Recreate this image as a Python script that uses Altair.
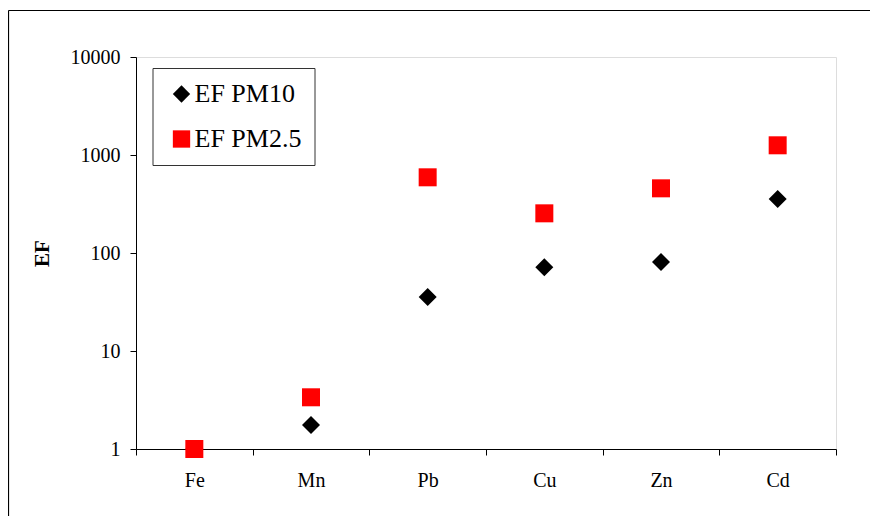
import altair as alt
import pandas as pd

elements = ["Fe", "Mn", "Pb", "Cu", "Zn", "Cd"]
ef_pm10 = [1, 1.76, 35.6, 71.5, 81, 355]
ef_pm25 = [1, 3.37, 592, 254, 457, 1256]
series_names = ["EF PM10", "EF PM2.5"]
y_ticks = [1, 10, 100, 1000, 10000]

rows = []
for name, vals in zip(series_names, [ef_pm10, ef_pm25]):
    for e, v in zip(elements, vals):
        rows.append({"element": e, "series": name, "value": v})
df = pd.DataFrame(rows)

FONT = "Liberation Serif"

points = alt.Chart(df).mark_point(filled=True, size=324, opacity=1, strokeWidth=0).encode(
    x=alt.X("element:N", sort=elements, title=None,
            scale=alt.Scale(paddingInner=0, paddingOuter=0),
            axis=alt.Axis(labelAngle=0, tickBand="extent", tickSize=6,
                          labelPadding=15, labelFontSize=20, labelFont=FONT,
                          labelColor="black", domainColor="black", tickColor="black",
                          grid=False)),
    y=alt.Y("value:Q", title="EF",
            scale=alt.Scale(type="log", domain=[1, 10000]),
            axis=alt.Axis(values=y_ticks, format="d", tickSize=6, labelPadding=10,
                          labelFontSize=20, labelFont=FONT, labelColor="black",
                          domainColor="black", tickColor="black", grid=False,
                          titleFont=FONT, titleFontSize=21, titleFontWeight="bold",
                          titleColor="black", titlePadding=18)),
    color=alt.Color("series:N", sort=series_names,
                    scale=alt.Scale(domain=series_names, range=["#000000", "#ff0000"]),
                    legend=alt.Legend(title=None, orient="none", legendX=16.5, legendY=11,
                                      strokeColor="#333333", padding=13,
                                      labelFont=FONT, labelFontSize=26, labelColor="black",
                                      labelOffset=0, rowPadding=19, symbolSize=300,
                                      symbolOffset=3, symbolStrokeWidth=0,
                                      fillColor="white")),
    shape=alt.Shape("series:N", sort=series_names,
                    scale=alt.Scale(domain=series_names, range=["diamond", "square"])),
    order=alt.Order("series:N"),
)

one = pd.DataFrame({"a": [0]})
frame_left = alt.Chart(one).mark_rule(color="black", strokeWidth=1.2).encode(
    x=alt.value(-127.5), y=alt.value(-46.5), y2=alt.value(700),
)
frame_top = alt.Chart(one).mark_rule(color="black", strokeWidth=1.2).encode(
    x=alt.value(-127.5), x2=alt.value(1000), y=alt.value(-46.5),
)

chart = alt.layer(frame_left, frame_top, points).properties(
    width=700, height=392,
    padding={"left": 128, "top": 49, "right": 34, "bottom": 67},
    autosize=alt.AutoSizeParams(type="none"),
).configure_view(stroke="black", strokeWidth=1).configure(background="white")

chart.save("out.html", embed_options={"renderer": "svg", "actions": False})
